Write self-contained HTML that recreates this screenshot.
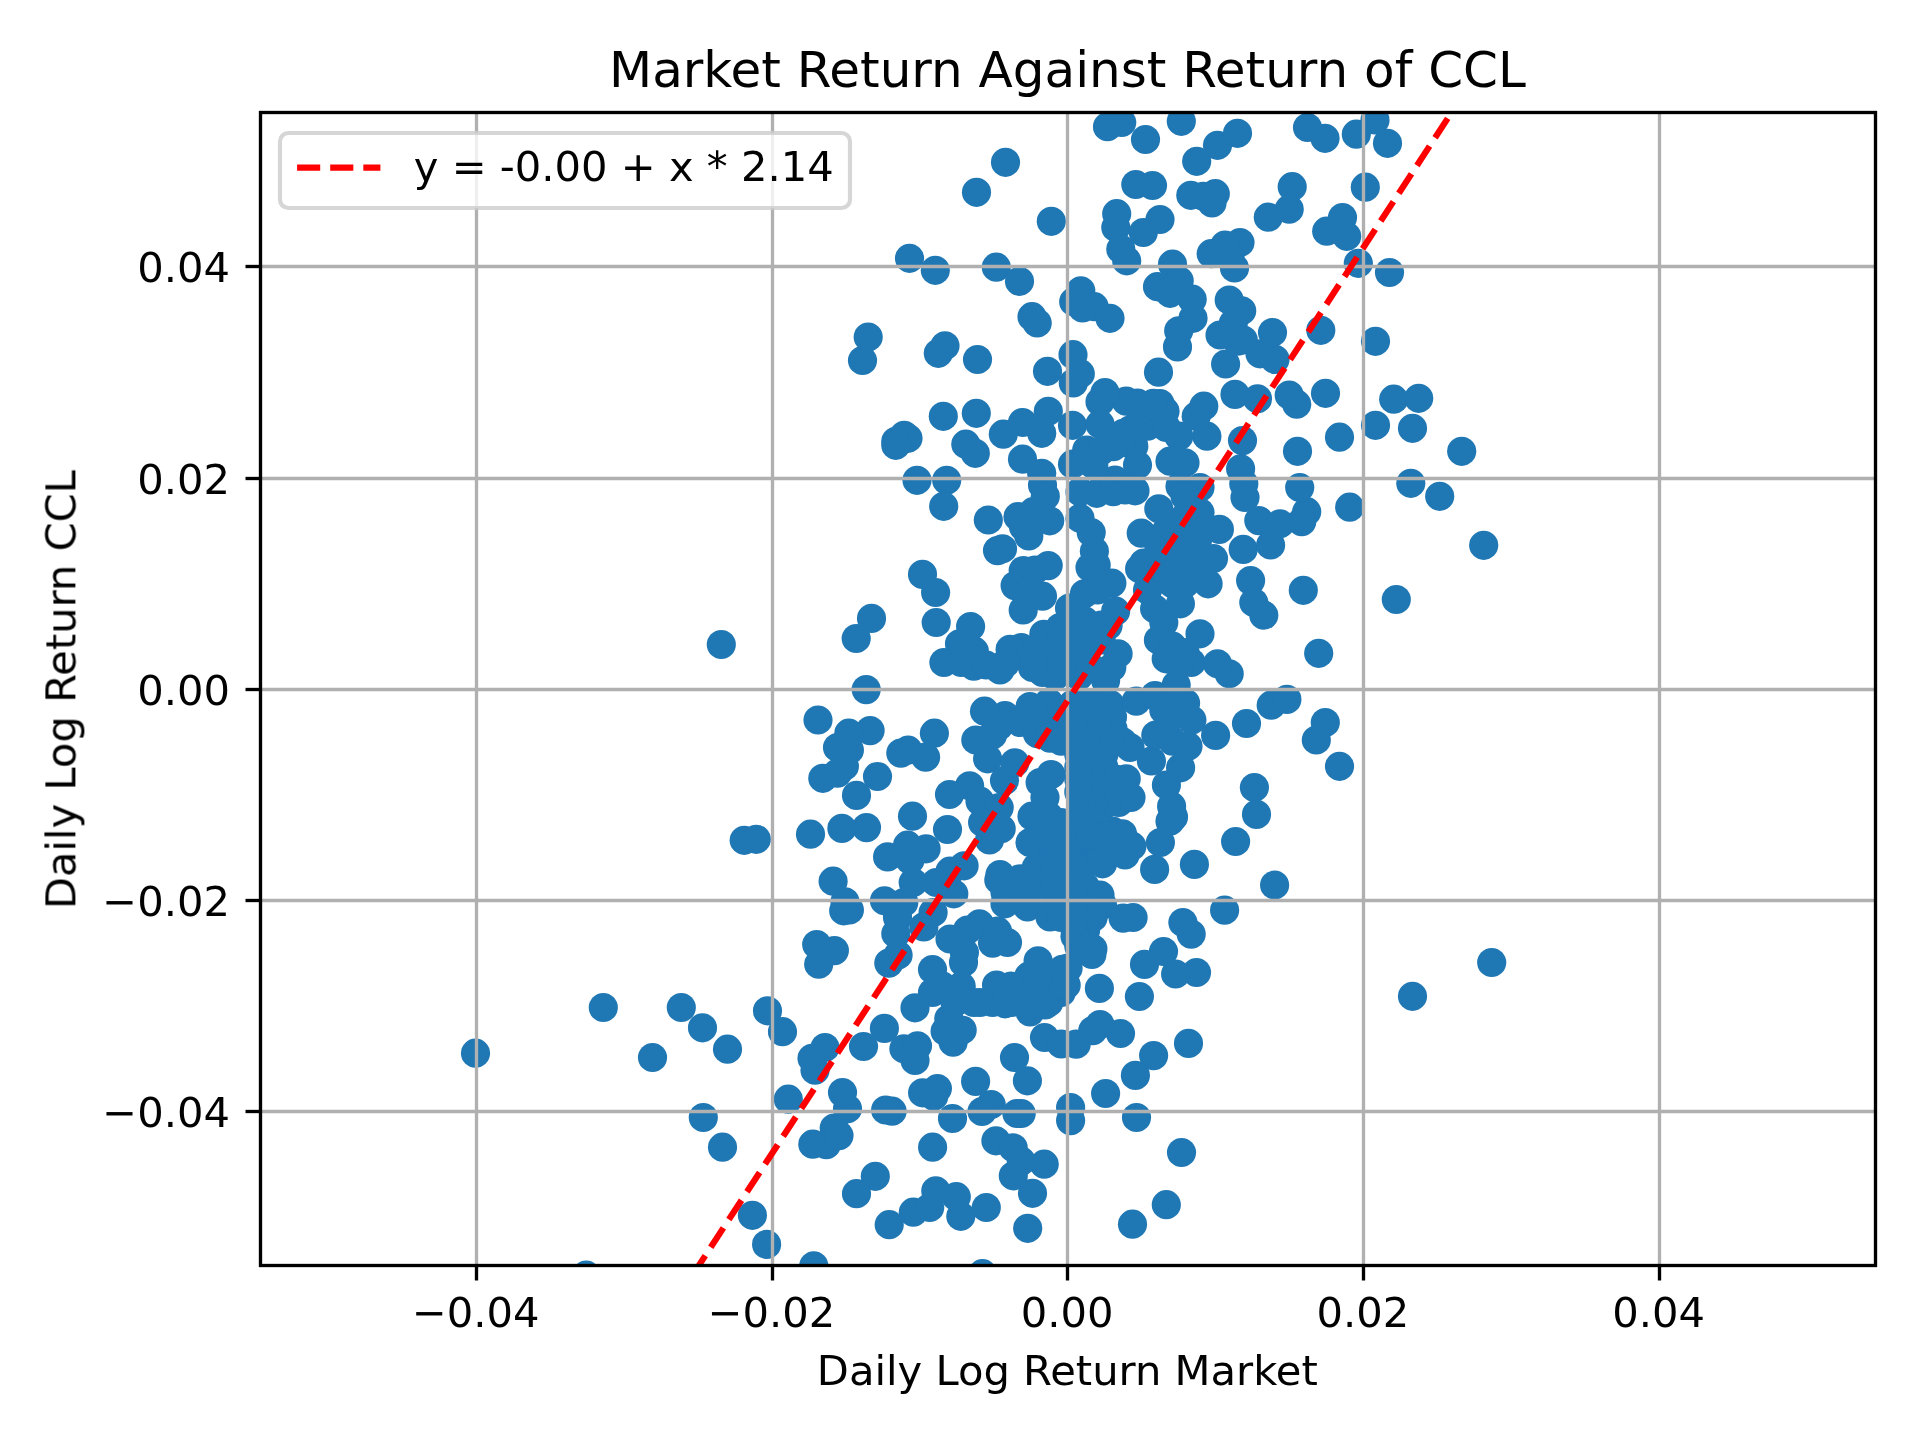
<!DOCTYPE html>
<html lang="en"><head><meta charset="utf-8"><title>Market Return Against Return of CCL</title>
<style>html,body{margin:0;padding:0;background:#fff;overflow:hidden}svg{display:block}text{font-family:"DejaVu Sans","Liberation Sans",sans-serif;fill:#000}</style></head><body>
<svg width="1920" height="1440" viewBox="0 0 1920 1440">
<rect width="1920" height="1440" fill="#fff"/>
<defs><clipPath id="ax"><rect x="259.58" y="112.0" width="1615.42" height="1153.17"/></clipPath></defs>
<g clip-path="url(#ax)" fill="#1f77b4">
<circle cx="1342.5" cy="217.5" r="14.58"/>
<circle cx="1268.3" cy="217.2" r="14.58"/>
<circle cx="965.8" cy="444.2" r="14.58"/>
<circle cx="1003.3" cy="434.2" r="14.58"/>
<circle cx="1041.7" cy="433.3" r="14.58"/>
<circle cx="1289.2" cy="209.2" r="14.58"/>
<circle cx="1326.7" cy="231.2" r="14.58"/>
<circle cx="1051.3" cy="221.3" r="14.58"/>
<circle cx="1461.7" cy="451.3" r="14.58"/>
<circle cx="1412.5" cy="428.3" r="14.58"/>
<circle cx="975.3" cy="453.3" r="14.58"/>
<circle cx="982.5" cy="1273.7" r="14.58"/>
<circle cx="1346.7" cy="236.3" r="14.58"/>
<circle cx="1022.5" cy="422.5" r="14.58"/>
<circle cx="703.3" cy="1117.5" r="14.58"/>
<circle cx="1022.5" cy="459.2" r="14.58"/>
<circle cx="1240.0" cy="242.5" r="14.58"/>
<circle cx="943.3" cy="416.3" r="14.58"/>
<circle cx="1375.5" cy="425.3" r="14.58"/>
<circle cx="976.3" cy="413.3" r="14.58"/>
<circle cx="976.5" cy="192.3" r="14.58"/>
<circle cx="788.3" cy="1099.2" r="14.58"/>
<circle cx="1048.3" cy="411.3" r="14.58"/>
<circle cx="937.4" cy="1088.5" r="14.58"/>
<circle cx="1027.7" cy="1228.3" r="14.58"/>
<circle cx="1072.5" cy="425.3" r="14.58"/>
<circle cx="1072.5" cy="464.2" r="14.58"/>
<circle cx="1182.9" cy="922.5" r="14.58"/>
<circle cx="922.6" cy="1092.8" r="14.58"/>
<circle cx="1365.3" cy="187.2" r="14.58"/>
<circle cx="1292.2" cy="186.7" r="14.58"/>
<circle cx="1041.7" cy="473.3" r="14.58"/>
<circle cx="1196.2" cy="416.2" r="14.58"/>
<circle cx="1208.1" cy="583.8" r="14.58"/>
<circle cx="1172.5" cy="583.8" r="14.58"/>
<circle cx="1185.0" cy="583.8" r="14.58"/>
<circle cx="1188.0" cy="746.2" r="14.58"/>
<circle cx="979.4" cy="923.8" r="14.58"/>
<circle cx="1225.0" cy="245.0" r="14.58"/>
<circle cx="721.3" cy="644.5" r="14.58"/>
<circle cx="922.5" cy="574.4" r="14.58"/>
<circle cx="1147.5" cy="426.2" r="14.58"/>
<circle cx="933.8" cy="1096.2" r="14.58"/>
<circle cx="1230.0" cy="256.7" r="14.58"/>
<circle cx="923.8" cy="926.9" r="14.58"/>
<circle cx="925.6" cy="757.2" r="14.58"/>
<circle cx="1166.2" cy="427.5" r="14.58"/>
<circle cx="933.1" cy="912.5" r="14.58"/>
<circle cx="975.6" cy="1081.4" r="14.58"/>
<circle cx="1165.0" cy="411.2" r="14.58"/>
<circle cx="1191.2" cy="571.2" r="14.58"/>
<circle cx="1172.5" cy="741.2" r="14.58"/>
<circle cx="987.6" cy="758.8" r="14.58"/>
<circle cx="1147.5" cy="590.0" r="14.58"/>
<circle cx="975.8" cy="740.0" r="14.58"/>
<circle cx="967.5" cy="930.0" r="14.58"/>
<circle cx="946.7" cy="480.3" r="14.58"/>
<circle cx="1393.7" cy="399.2" r="14.58"/>
<circle cx="1151.4" cy="761.0" r="14.58"/>
<circle cx="1139.6" cy="568.8" r="14.58"/>
<circle cx="1418.7" cy="398.3" r="14.58"/>
<circle cx="908.1" cy="750.2" r="14.58"/>
<circle cx="1160.0" cy="567.5" r="14.58"/>
<circle cx="935.6" cy="592.5" r="14.58"/>
<circle cx="652.5" cy="1057.5" r="14.58"/>
<circle cx="917.0" cy="480.3" r="14.58"/>
<circle cx="1358.3" cy="263.3" r="14.58"/>
<circle cx="1410.8" cy="483.3" r="14.58"/>
<circle cx="960.8" cy="1216.3" r="14.58"/>
<circle cx="1203.8" cy="406.2" r="14.58"/>
<circle cx="1191.2" cy="934.1" r="14.58"/>
<circle cx="991.2" cy="1104.5" r="14.58"/>
<circle cx="1215.6" cy="735.4" r="14.58"/>
<circle cx="1224.6" cy="910.2" r="14.58"/>
<circle cx="1135.4" cy="1075.4" r="14.58"/>
<circle cx="1215.3" cy="193.7" r="14.58"/>
<circle cx="1042.5" cy="485.0" r="14.58"/>
<circle cx="1178.8" cy="565.0" r="14.58"/>
<circle cx="1155.8" cy="735.0" r="14.58"/>
<circle cx="992.5" cy="735.0" r="14.58"/>
<circle cx="1206.9" cy="436.2" r="14.58"/>
<circle cx="1178.8" cy="436.2" r="14.58"/>
<circle cx="1160.0" cy="403.5" r="14.58"/>
<circle cx="1086.7" cy="450.0" r="14.58"/>
<circle cx="934.4" cy="733.2" r="14.58"/>
<circle cx="1137.5" cy="403.1" r="14.58"/>
<circle cx="1143.8" cy="563.1" r="14.58"/>
<circle cx="1133.1" cy="917.5" r="14.58"/>
<circle cx="996.3" cy="267.2" r="14.58"/>
<circle cx="722.5" cy="1147.2" r="14.58"/>
<circle cx="903.8" cy="902.5" r="14.58"/>
<circle cx="997.5" cy="931.2" r="14.58"/>
<circle cx="1180.6" cy="767.8" r="14.58"/>
<circle cx="913.3" cy="1212.2" r="14.58"/>
<circle cx="1212.0" cy="203.0" r="14.58"/>
<circle cx="1234.5" cy="268.0" r="14.58"/>
<circle cx="1211.2" cy="253.7" r="14.58"/>
<circle cx="950.0" cy="939.0" r="14.58"/>
<circle cx="900.8" cy="753.1" r="14.58"/>
<circle cx="1130.0" cy="430.0" r="14.58"/>
<circle cx="1130.0" cy="747.5" r="14.58"/>
<circle cx="935.3" cy="270.3" r="14.58"/>
<circle cx="909.5" cy="258.3" r="14.58"/>
<circle cx="727.5" cy="1049.2" r="14.58"/>
<circle cx="1213.5" cy="558.5" r="14.58"/>
<circle cx="982.0" cy="1111.5" r="14.58"/>
<circle cx="1080.0" cy="491.7" r="14.58"/>
<circle cx="908.0" cy="438.3" r="14.58"/>
<circle cx="812.0" cy="1058.3" r="14.58"/>
<circle cx="1389.5" cy="272.5" r="14.58"/>
<circle cx="897.5" cy="917.5" r="14.58"/>
<circle cx="929.7" cy="1207.5" r="14.58"/>
<circle cx="986.3" cy="1207.5" r="14.58"/>
<circle cx="812.8" cy="1144.2" r="14.58"/>
<circle cx="992.5" cy="943.1" r="14.58"/>
<circle cx="1126.2" cy="401.2" r="14.58"/>
<circle cx="1180.4" cy="603.8" r="14.58"/>
<circle cx="998.8" cy="726.2" r="14.58"/>
<circle cx="895.8" cy="933.8" r="14.58"/>
<circle cx="1191.2" cy="555.0" r="14.58"/>
<circle cx="1005.0" cy="903.8" r="14.58"/>
<circle cx="815.0" cy="1070.2" r="14.58"/>
<circle cx="1235.0" cy="394.4" r="14.58"/>
<circle cx="904.2" cy="435.3" r="14.58"/>
<circle cx="953.8" cy="893.8" r="14.58"/>
<circle cx="1133.8" cy="446.2" r="14.58"/>
<circle cx="1045.3" cy="496.3" r="14.58"/>
<circle cx="1439.7" cy="496.3" r="14.58"/>
<circle cx="1203.3" cy="196.3" r="14.58"/>
<circle cx="1096.7" cy="493.3" r="14.58"/>
<circle cx="816.7" cy="944.5" r="14.58"/>
<circle cx="1123.1" cy="918.1" r="14.58"/>
<circle cx="1073.3" cy="383.0" r="14.58"/>
<circle cx="1122.5" cy="741.9" r="14.58"/>
<circle cx="1005.0" cy="892.5" r="14.58"/>
<circle cx="1007.5" cy="942.5" r="14.58"/>
<circle cx="1136.5" cy="1117.5" r="14.58"/>
<circle cx="1005.5" cy="162.3" r="14.58"/>
<circle cx="892.1" cy="1111.2" r="14.58"/>
<circle cx="952.5" cy="1118.5" r="14.58"/>
<circle cx="1154.6" cy="608.8" r="14.58"/>
<circle cx="1126.2" cy="778.8" r="14.58"/>
<circle cx="997.5" cy="550.6" r="14.58"/>
<circle cx="915.0" cy="1060.5" r="14.58"/>
<circle cx="744.2" cy="840.3" r="14.58"/>
<circle cx="1100.0" cy="401.7" r="14.58"/>
<circle cx="1100.0" cy="424.2" r="14.58"/>
<circle cx="1100.0" cy="451.7" r="14.58"/>
<circle cx="1120.0" cy="442.5" r="14.58"/>
<circle cx="1191.9" cy="720.0" r="14.58"/>
<circle cx="1339.5" cy="437.2" r="14.58"/>
<circle cx="1396.3" cy="599.5" r="14.58"/>
<circle cx="1004.5" cy="780.6" r="14.58"/>
<circle cx="756.3" cy="839.3" r="14.58"/>
<circle cx="889.2" cy="1224.7" r="14.58"/>
<circle cx="1002.5" cy="548.8" r="14.58"/>
<circle cx="1019.5" cy="281.3" r="14.58"/>
<circle cx="1163.5" cy="951.5" r="14.58"/>
<circle cx="862.5" cy="360.5" r="14.58"/>
<circle cx="1242.5" cy="440.6" r="14.58"/>
<circle cx="964.4" cy="952.5" r="14.58"/>
<circle cx="1491.7" cy="962.5" r="14.58"/>
<circle cx="1243.2" cy="549.4" r="14.58"/>
<circle cx="1196.7" cy="161.3" r="14.58"/>
<circle cx="956.3" cy="1196.7" r="14.58"/>
<circle cx="1158.8" cy="546.2" r="14.58"/>
<circle cx="1172.5" cy="716.2" r="14.58"/>
<circle cx="1116.2" cy="779.4" r="14.58"/>
<circle cx="895.8" cy="441.3" r="14.58"/>
<circle cx="895.8" cy="445.3" r="14.58"/>
<circle cx="818.7" cy="964.2" r="14.58"/>
<circle cx="1115.6" cy="611.2" r="14.58"/>
<circle cx="1005.0" cy="715.6" r="14.58"/>
<circle cx="885.6" cy="1110.0" r="14.58"/>
<circle cx="1153.6" cy="1055.6" r="14.58"/>
<circle cx="1014.5" cy="1057.5" r="14.58"/>
<circle cx="1014.8" cy="762.8" r="14.58"/>
<circle cx="1105.0" cy="392.5" r="14.58"/>
<circle cx="1166.4" cy="785.0" r="14.58"/>
<circle cx="898.1" cy="955.0" r="14.58"/>
<circle cx="825.0" cy="1047.5" r="14.58"/>
<circle cx="1015.1" cy="585.6" r="14.58"/>
<circle cx="884.5" cy="900.8" r="14.58"/>
<circle cx="969.6" cy="785.8" r="14.58"/>
<circle cx="810.5" cy="834.2" r="14.58"/>
<circle cx="826.3" cy="1144.7" r="14.58"/>
<circle cx="1080.3" cy="373.7" r="14.58"/>
<circle cx="943.7" cy="506.3" r="14.58"/>
<circle cx="1246.5" cy="723.5" r="14.58"/>
<circle cx="1032.5" cy="1193.3" r="14.58"/>
<circle cx="1113.1" cy="729.4" r="14.58"/>
<circle cx="1016.9" cy="1113.5" r="14.58"/>
<circle cx="1349.7" cy="507.2" r="14.58"/>
<circle cx="1112.5" cy="716.9" r="14.58"/>
<circle cx="913.2" cy="882.5" r="14.58"/>
<circle cx="936.2" cy="882.5" r="14.58"/>
<circle cx="1017.5" cy="892.5" r="14.58"/>
<circle cx="1111.9" cy="583.1" r="14.58"/>
<circle cx="868.2" cy="337.0" r="14.58"/>
<circle cx="1047.5" cy="371.3" r="14.58"/>
<circle cx="984.5" cy="711.2" r="14.58"/>
<circle cx="1190.8" cy="195.3" r="14.58"/>
<circle cx="935.8" cy="1190.8" r="14.58"/>
<circle cx="1178.8" cy="540.0" r="14.58"/>
<circle cx="1197.5" cy="540.0" r="14.58"/>
<circle cx="1163.8" cy="710.0" r="14.58"/>
<circle cx="1110.0" cy="741.9" r="14.58"/>
<circle cx="1020.0" cy="722.5" r="14.58"/>
<circle cx="998.8" cy="880.0" r="14.58"/>
<circle cx="1250.6" cy="580.6" r="14.58"/>
<circle cx="1080.8" cy="290.8" r="14.58"/>
<circle cx="1170.0" cy="461.2" r="14.58"/>
<circle cx="1020.0" cy="878.8" r="14.58"/>
<circle cx="903.9" cy="1048.8" r="14.58"/>
<circle cx="1021.2" cy="1113.5" r="14.58"/>
<circle cx="1033.3" cy="511.7" r="14.58"/>
<circle cx="1116.2" cy="791.9" r="14.58"/>
<circle cx="1163.8" cy="622.5" r="14.58"/>
<circle cx="936.2" cy="622.5" r="14.58"/>
<circle cx="877.5" cy="776.5" r="14.58"/>
<circle cx="963.5" cy="962.5" r="14.58"/>
<circle cx="1185.0" cy="462.8" r="14.58"/>
<circle cx="888.8" cy="963.1" r="14.58"/>
<circle cx="1023.2" cy="570.6" r="14.58"/>
<circle cx="1023.2" cy="610.0" r="14.58"/>
<circle cx="1113.3" cy="446.7" r="14.58"/>
<circle cx="1113.3" cy="491.7" r="14.58"/>
<circle cx="1166.3" cy="1204.7" r="14.58"/>
<circle cx="1253.8" cy="602.5" r="14.58"/>
<circle cx="834.2" cy="1128.0" r="14.58"/>
<circle cx="917.5" cy="1045.8" r="14.58"/>
<circle cx="1254.4" cy="787.5" r="14.58"/>
<circle cx="1144.5" cy="964.4" r="14.58"/>
<circle cx="1105.6" cy="1093.5" r="14.58"/>
<circle cx="1325.5" cy="393.3" r="14.58"/>
<circle cx="949.5" cy="794.5" r="14.58"/>
<circle cx="1217.5" cy="145.3" r="14.58"/>
<circle cx="1325.3" cy="722.5" r="14.58"/>
<circle cx="1115.0" cy="480.0" r="14.58"/>
<circle cx="1137.5" cy="465.0" r="14.58"/>
<circle cx="1000.0" cy="874.5" r="14.58"/>
<circle cx="1108.1" cy="625.6" r="14.58"/>
<circle cx="1110.0" cy="704.4" r="14.58"/>
<circle cx="1115.8" cy="227.5" r="14.58"/>
<circle cx="1103.8" cy="448.8" r="14.58"/>
<circle cx="1103.8" cy="754.4" r="14.58"/>
<circle cx="1103.8" cy="766.9" r="14.58"/>
<circle cx="1103.8" cy="779.4" r="14.58"/>
<circle cx="1103.8" cy="791.9" r="14.58"/>
<circle cx="970.6" cy="626.5" r="14.58"/>
<circle cx="1188.5" cy="1043.4" r="14.58"/>
<circle cx="1018.0" cy="516.7" r="14.58"/>
<circle cx="1387.5" cy="143.3" r="14.58"/>
<circle cx="1116.7" cy="213.7" r="14.58"/>
<circle cx="1141.2" cy="533.1" r="14.58"/>
<circle cx="1185.6" cy="703.1" r="14.58"/>
<circle cx="1027.4" cy="1080.8" r="14.58"/>
<circle cx="1257.5" cy="398.8" r="14.58"/>
<circle cx="1131.0" cy="797.5" r="14.58"/>
<circle cx="1102.5" cy="905.0" r="14.58"/>
<circle cx="1027.5" cy="906.9" r="14.58"/>
<circle cx="1158.5" cy="372.2" r="14.58"/>
<circle cx="953.1" cy="1042.2" r="14.58"/>
<circle cx="1080.0" cy="518.3" r="14.58"/>
<circle cx="871.5" cy="618.4" r="14.58"/>
<circle cx="1240.6" cy="468.8" r="14.58"/>
<circle cx="1101.2" cy="625.0" r="14.58"/>
<circle cx="1166.2" cy="531.2" r="14.58"/>
<circle cx="1028.8" cy="535.9" r="14.58"/>
<circle cx="1136.2" cy="701.2" r="14.58"/>
<circle cx="950.0" cy="871.2" r="14.58"/>
<circle cx="1192.2" cy="299.2" r="14.58"/>
<circle cx="932.5" cy="969.5" r="14.58"/>
<circle cx="870.1" cy="730.6" r="14.58"/>
<circle cx="1229.2" cy="300.0" r="14.58"/>
<circle cx="988.3" cy="520.0" r="14.58"/>
<circle cx="1030.0" cy="590.0" r="14.58"/>
<circle cx="1030.0" cy="706.5" r="14.58"/>
<circle cx="1100.0" cy="895.0" r="14.58"/>
<circle cx="977.5" cy="359.5" r="14.58"/>
<circle cx="1219.4" cy="529.4" r="14.58"/>
<circle cx="1154.6" cy="869.4" r="14.58"/>
<circle cx="995.9" cy="1140.8" r="14.58"/>
<circle cx="1120.8" cy="249.2" r="14.58"/>
<circle cx="1179.2" cy="280.8" r="14.58"/>
<circle cx="1049.7" cy="520.8" r="14.58"/>
<circle cx="980.0" cy="801.2" r="14.58"/>
<circle cx="1318.7" cy="653.3" r="14.58"/>
<circle cx="1073.7" cy="301.7" r="14.58"/>
<circle cx="1325.0" cy="138.3" r="14.58"/>
<circle cx="1097.5" cy="590.0" r="14.58"/>
<circle cx="1097.5" cy="704.4" r="14.58"/>
<circle cx="1097.5" cy="716.9" r="14.58"/>
<circle cx="1097.5" cy="729.4" r="14.58"/>
<circle cx="1097.5" cy="741.9" r="14.58"/>
<circle cx="1118.8" cy="802.5" r="14.58"/>
<circle cx="1196.5" cy="972.5" r="14.58"/>
<circle cx="1123.3" cy="433.3" r="14.58"/>
<circle cx="1023.4" cy="526.6" r="14.58"/>
<circle cx="1316.3" cy="740.0" r="14.58"/>
<circle cx="875.3" cy="1176.3" r="14.58"/>
<circle cx="843.7" cy="910.8" r="14.58"/>
<circle cx="1096.2" cy="565.0" r="14.58"/>
<circle cx="1200.0" cy="633.8" r="14.58"/>
<circle cx="1263.8" cy="615.2" r="14.58"/>
<circle cx="1106.2" cy="803.8" r="14.58"/>
<circle cx="1175.6" cy="974.0" r="14.58"/>
<circle cx="1013.3" cy="1175.8" r="14.58"/>
<circle cx="964.1" cy="865.8" r="14.58"/>
<circle cx="1155.0" cy="695.6" r="14.58"/>
<circle cx="475.5" cy="1053.2" r="14.58"/>
<circle cx="1035.0" cy="570.0" r="14.58"/>
<circle cx="1073.0" cy="354.7" r="14.58"/>
<circle cx="1094.4" cy="551.2" r="14.58"/>
<circle cx="1194.4" cy="864.4" r="14.58"/>
<circle cx="813.8" cy="1265.8" r="14.58"/>
<circle cx="1356.3" cy="134.2" r="14.58"/>
<circle cx="1225.6" cy="364.0" r="14.58"/>
<circle cx="1171.6" cy="806.2" r="14.58"/>
<circle cx="1093.8" cy="803.8" r="14.58"/>
<circle cx="1102.5" cy="863.8" r="14.58"/>
<circle cx="1036.2" cy="890.0" r="14.58"/>
<circle cx="1036.2" cy="867.5" r="14.58"/>
<circle cx="1028.8" cy="976.2" r="14.58"/>
<circle cx="1093.8" cy="465.0" r="14.58"/>
<circle cx="863.5" cy="1046.5" r="14.58"/>
<circle cx="1120.5" cy="1033.5" r="14.58"/>
<circle cx="1094.2" cy="306.7" r="14.58"/>
<circle cx="1237.5" cy="133.3" r="14.58"/>
<circle cx="938.3" cy="353.3" r="14.58"/>
<circle cx="1126.7" cy="260.8" r="14.58"/>
<circle cx="1093.1" cy="917.5" r="14.58"/>
<circle cx="1092.9" cy="948.8" r="14.58"/>
<circle cx="932.6" cy="1147.2" r="14.58"/>
<circle cx="1172.5" cy="264.2" r="14.58"/>
<circle cx="1037.5" cy="733.8" r="14.58"/>
<circle cx="999.2" cy="807.5" r="14.58"/>
<circle cx="1013.2" cy="1147.8" r="14.58"/>
<circle cx="1082.5" cy="308.0" r="14.58"/>
<circle cx="1091.9" cy="954.4" r="14.58"/>
<circle cx="1038.1" cy="960.8" r="14.58"/>
<circle cx="1091.2" cy="532.5" r="14.58"/>
<circle cx="1091.2" cy="754.4" r="14.58"/>
<circle cx="1091.2" cy="766.9" r="14.58"/>
<circle cx="1091.2" cy="779.4" r="14.58"/>
<circle cx="1091.2" cy="791.9" r="14.58"/>
<circle cx="945.1" cy="1031.2" r="14.58"/>
<circle cx="1258.8" cy="520.6" r="14.58"/>
<circle cx="1092.8" cy="1030.6" r="14.58"/>
<circle cx="1170.0" cy="293.3" r="14.58"/>
<circle cx="1090.0" cy="567.5" r="14.58"/>
<circle cx="1101.2" cy="640.0" r="14.58"/>
<circle cx="1158.4" cy="640.0" r="14.58"/>
<circle cx="910.0" cy="860.0" r="14.58"/>
<circle cx="962.2" cy="1030.0" r="14.58"/>
<circle cx="1040.1" cy="782.5" r="14.58"/>
<circle cx="866.2" cy="689.6" r="14.58"/>
<circle cx="1198.8" cy="519.4" r="14.58"/>
<circle cx="1270.6" cy="545.0" r="14.58"/>
<circle cx="1241.7" cy="310.8" r="14.58"/>
<circle cx="1271.2" cy="705.2" r="14.58"/>
<circle cx="884.4" cy="1028.4" r="14.58"/>
<circle cx="752.4" cy="1215.3" r="14.58"/>
<circle cx="1307.5" cy="127.5" r="14.58"/>
<circle cx="1042.5" cy="596.2" r="14.58"/>
<circle cx="1087.5" cy="900.0" r="14.58"/>
<circle cx="1042.5" cy="902.5" r="14.58"/>
<circle cx="1181.5" cy="1152.5" r="14.58"/>
<circle cx="1185.0" cy="516.9" r="14.58"/>
<circle cx="887.6" cy="856.9" r="14.58"/>
<circle cx="1306.7" cy="511.7" r="14.58"/>
<circle cx="1107.5" cy="126.7" r="14.58"/>
<circle cx="856.5" cy="795.4" r="14.58"/>
<circle cx="856.5" cy="1193.7" r="14.58"/>
<circle cx="1243.8" cy="483.8" r="14.58"/>
<circle cx="856.2" cy="638.5" r="14.58"/>
<circle cx="959.5" cy="643.8" r="14.58"/>
<circle cx="1043.8" cy="634.4" r="14.58"/>
<circle cx="945.0" cy="345.8" r="14.58"/>
<circle cx="1256.5" cy="814.4" r="14.58"/>
<circle cx="1085.6" cy="930.0" r="14.58"/>
<circle cx="1044.5" cy="1037.5" r="14.58"/>
<circle cx="1274.6" cy="885.0" r="14.58"/>
<circle cx="1135.0" cy="490.8" r="14.58"/>
<circle cx="1275.0" cy="359.4" r="14.58"/>
<circle cx="1085.0" cy="621.2" r="14.58"/>
<circle cx="1176.2" cy="685.0" r="14.58"/>
<circle cx="1085.0" cy="704.4" r="14.58"/>
<circle cx="1085.0" cy="716.9" r="14.58"/>
<circle cx="1085.0" cy="729.4" r="14.58"/>
<circle cx="1085.0" cy="741.9" r="14.58"/>
<circle cx="1045.0" cy="797.5" r="14.58"/>
<circle cx="1125.0" cy="855.0" r="14.58"/>
<circle cx="1085.0" cy="861.2" r="14.58"/>
<circle cx="1085.0" cy="886.2" r="14.58"/>
<circle cx="1042.5" cy="855.0" r="14.58"/>
<circle cx="996.5" cy="985.0" r="14.58"/>
<circle cx="586.2" cy="1275.2" r="14.58"/>
<circle cx="1100.0" cy="1024.5" r="14.58"/>
<circle cx="1084.4" cy="593.8" r="14.58"/>
<circle cx="1135.8" cy="184.5" r="14.58"/>
<circle cx="1044.2" cy="1164.2" r="14.58"/>
<circle cx="1260.0" cy="353.8" r="14.58"/>
<circle cx="1180.0" cy="486.2" r="14.58"/>
<circle cx="1172.5" cy="646.2" r="14.58"/>
<circle cx="1091.2" cy="816.2" r="14.58"/>
<circle cx="1032.0" cy="816.2" r="14.58"/>
<circle cx="912.5" cy="816.2" r="14.58"/>
<circle cx="942.5" cy="986.2" r="14.58"/>
<circle cx="961.2" cy="986.2" r="14.58"/>
<circle cx="1011.2" cy="986.2" r="14.58"/>
<circle cx="1412.5" cy="996.3" r="14.58"/>
<circle cx="1032.0" cy="316.7" r="14.58"/>
<circle cx="1303.3" cy="590.3" r="14.58"/>
<circle cx="1173.5" cy="816.9" r="14.58"/>
<circle cx="1121.7" cy="122.5" r="14.58"/>
<circle cx="1200.0" cy="487.5" r="14.58"/>
<circle cx="1047.5" cy="722.5" r="14.58"/>
<circle cx="1082.5" cy="915.0" r="14.58"/>
<circle cx="1021.2" cy="647.6" r="14.58"/>
<circle cx="1162.0" cy="287.5" r="14.58"/>
<circle cx="1048.2" cy="565.6" r="14.58"/>
<circle cx="1138.3" cy="426.7" r="14.58"/>
<circle cx="1301.7" cy="521.7" r="14.58"/>
<circle cx="1110.0" cy="318.3" r="14.58"/>
<circle cx="1193.0" cy="318.3" r="14.58"/>
<circle cx="822.8" cy="778.3" r="14.58"/>
<circle cx="1099.4" cy="988.4" r="14.58"/>
<circle cx="1181.3" cy="121.3" r="14.58"/>
<circle cx="1375.5" cy="341.3" r="14.58"/>
<circle cx="1081.2" cy="803.8" r="14.58"/>
<circle cx="1048.8" cy="702.5" r="14.58"/>
<circle cx="1048.8" cy="816.2" r="14.58"/>
<circle cx="1048.8" cy="980.0" r="14.58"/>
<circle cx="1021.3" cy="1161.2" r="14.58"/>
<circle cx="1010.1" cy="649.4" r="14.58"/>
<circle cx="1105.6" cy="680.6" r="14.58"/>
<circle cx="1375.0" cy="120.0" r="14.58"/>
<circle cx="1160.0" cy="219.5" r="14.58"/>
<circle cx="1140.0" cy="410.0" r="14.58"/>
<circle cx="1125.0" cy="490.0" r="14.58"/>
<circle cx="1280.0" cy="523.8" r="14.58"/>
<circle cx="1050.0" cy="738.1" r="14.58"/>
<circle cx="1050.0" cy="916.9" r="14.58"/>
<circle cx="1299.7" cy="487.5" r="14.58"/>
<circle cx="849.4" cy="750.0" r="14.58"/>
<circle cx="849.4" cy="910.0" r="14.58"/>
<circle cx="1051.0" cy="774.5" r="14.58"/>
<circle cx="1078.8" cy="646.2" r="14.58"/>
<circle cx="1158.8" cy="508.8" r="14.58"/>
<circle cx="974.4" cy="651.2" r="14.58"/>
<circle cx="1170.0" cy="821.2" r="14.58"/>
<circle cx="1078.8" cy="754.4" r="14.58"/>
<circle cx="1078.8" cy="766.9" r="14.58"/>
<circle cx="1078.8" cy="779.4" r="14.58"/>
<circle cx="1078.8" cy="791.9" r="14.58"/>
<circle cx="848.8" cy="733.2" r="14.58"/>
<circle cx="1085.0" cy="848.8" r="14.58"/>
<circle cx="1097.5" cy="848.8" r="14.58"/>
<circle cx="1110.0" cy="848.8" r="14.58"/>
<circle cx="1078.8" cy="946.2" r="14.58"/>
<circle cx="926.1" cy="848.8" r="14.58"/>
<circle cx="948.8" cy="1018.8" r="14.58"/>
<circle cx="1297.5" cy="451.3" r="14.58"/>
<circle cx="1185.0" cy="652.5" r="14.58"/>
<circle cx="1048.8" cy="652.5" r="14.58"/>
<circle cx="1078.8" cy="822.5" r="14.58"/>
<circle cx="982.6" cy="822.5" r="14.58"/>
<circle cx="932.5" cy="992.5" r="14.58"/>
<circle cx="847.5" cy="1108.8" r="14.58"/>
<circle cx="1132.5" cy="1224.2" r="14.58"/>
<circle cx="1037.2" cy="323.0" r="14.58"/>
<circle cx="1177.5" cy="346.9" r="14.58"/>
<circle cx="1143.3" cy="232.5" r="14.58"/>
<circle cx="1296.7" cy="404.2" r="14.58"/>
<circle cx="1233.3" cy="323.3" r="14.58"/>
<circle cx="1118.1" cy="653.8" r="14.58"/>
<circle cx="1078.8" cy="676.2" r="14.58"/>
<circle cx="1131.9" cy="846.2" r="14.58"/>
<circle cx="1076.2" cy="1044.2" r="14.58"/>
<circle cx="907.5" cy="845.2" r="14.58"/>
<circle cx="1075.0" cy="608.8" r="14.58"/>
<circle cx="1055.0" cy="676.2" r="14.58"/>
<circle cx="1120.0" cy="845.0" r="14.58"/>
<circle cx="1075.0" cy="936.2" r="14.58"/>
<circle cx="845.0" cy="901.9" r="14.58"/>
<circle cx="1055.0" cy="886.2" r="14.58"/>
<circle cx="1055.0" cy="867.5" r="14.58"/>
<circle cx="1483.7" cy="545.3" r="14.58"/>
<circle cx="1145.5" cy="139.5" r="14.58"/>
<circle cx="844.4" cy="766.2" r="14.58"/>
<circle cx="1185.0" cy="496.2" r="14.58"/>
<circle cx="1085.0" cy="656.2" r="14.58"/>
<circle cx="1229.2" cy="673.8" r="14.58"/>
<circle cx="1030.0" cy="996.2" r="14.58"/>
<circle cx="1339.5" cy="766.3" r="14.58"/>
<circle cx="1139.4" cy="996.5" r="14.58"/>
<circle cx="766.6" cy="1244.4" r="14.58"/>
<circle cx="1286.9" cy="699.4" r="14.58"/>
<circle cx="1152.5" cy="185.5" r="14.58"/>
<circle cx="1245.0" cy="497.5" r="14.58"/>
<circle cx="1072.5" cy="627.5" r="14.58"/>
<circle cx="1072.5" cy="704.4" r="14.58"/>
<circle cx="1072.5" cy="716.9" r="14.58"/>
<circle cx="1072.5" cy="729.4" r="14.58"/>
<circle cx="1072.5" cy="741.9" r="14.58"/>
<circle cx="1042.5" cy="672.5" r="14.58"/>
<circle cx="1160.4" cy="842.5" r="14.58"/>
<circle cx="1072.5" cy="848.8" r="14.58"/>
<circle cx="1072.5" cy="861.2" r="14.58"/>
<circle cx="1072.5" cy="886.2" r="14.58"/>
<circle cx="1072.5" cy="898.8" r="14.58"/>
<circle cx="1072.5" cy="911.2" r="14.58"/>
<circle cx="1072.5" cy="923.8" r="14.58"/>
<circle cx="1030.0" cy="842.5" r="14.58"/>
<circle cx="842.5" cy="1092.6" r="14.58"/>
<circle cx="603.3" cy="1007.5" r="14.58"/>
<circle cx="681.3" cy="1007.5" r="14.58"/>
<circle cx="866.5" cy="827.6" r="14.58"/>
<circle cx="1030.0" cy="1011.9" r="14.58"/>
<circle cx="841.9" cy="828.4" r="14.58"/>
<circle cx="1235.6" cy="841.5" r="14.58"/>
<circle cx="1237.5" cy="341.2" r="14.58"/>
<circle cx="1166.2" cy="658.8" r="14.58"/>
<circle cx="1030.0" cy="658.8" r="14.58"/>
<circle cx="1001.2" cy="828.8" r="14.58"/>
<circle cx="1070.6" cy="1107.5" r="14.58"/>
<circle cx="1070.6" cy="1120.6" r="14.58"/>
<circle cx="947.5" cy="829.5" r="14.58"/>
<circle cx="1320.8" cy="330.3" r="14.58"/>
<circle cx="1000.0" cy="670.0" r="14.58"/>
<circle cx="989.5" cy="840.0" r="14.58"/>
<circle cx="1048.8" cy="840.0" r="14.58"/>
<circle cx="1289.2" cy="395.0" r="14.58"/>
<circle cx="1178.7" cy="330.8" r="14.58"/>
<circle cx="767.5" cy="1010.8" r="14.58"/>
<circle cx="839.0" cy="1135.6" r="14.58"/>
<circle cx="1061.2" cy="640.0" r="14.58"/>
<circle cx="1112.5" cy="831.2" r="14.58"/>
<circle cx="1061.2" cy="710.0" r="14.58"/>
<circle cx="1061.2" cy="741.2" r="14.58"/>
<circle cx="1061.2" cy="822.5" r="14.58"/>
<circle cx="1061.2" cy="848.8" r="14.58"/>
<circle cx="1061.2" cy="917.5" r="14.58"/>
<circle cx="1061.2" cy="898.8" r="14.58"/>
<circle cx="1061.2" cy="992.5" r="14.58"/>
<circle cx="1061.2" cy="1044.0" r="14.58"/>
<circle cx="1068.1" cy="968.1" r="14.58"/>
<circle cx="915.0" cy="1007.8" r="14.58"/>
<circle cx="1272.5" cy="332.5" r="14.58"/>
<circle cx="1191.2" cy="662.5" r="14.58"/>
<circle cx="943.9" cy="662.5" r="14.58"/>
<circle cx="961.2" cy="662.5" r="14.58"/>
<circle cx="1061.2" cy="662.5" r="14.58"/>
<circle cx="1111.8" cy="667.5" r="14.58"/>
<circle cx="1091.2" cy="667.5" r="14.58"/>
<circle cx="1032.5" cy="667.5" r="14.58"/>
<circle cx="837.5" cy="747.5" r="14.58"/>
<circle cx="837.5" cy="773.1" r="14.58"/>
<circle cx="955.0" cy="1002.5" r="14.58"/>
<circle cx="973.8" cy="1002.5" r="14.58"/>
<circle cx="1062.5" cy="969.4" r="14.58"/>
<circle cx="1011.2" cy="1002.5" r="14.58"/>
<circle cx="1048.8" cy="1002.5" r="14.58"/>
<circle cx="992.5" cy="1002.5" r="14.58"/>
<circle cx="1153.3" cy="403.3" r="14.58"/>
<circle cx="1217.5" cy="663.8" r="14.58"/>
<circle cx="1005.0" cy="663.8" r="14.58"/>
<circle cx="1122.5" cy="833.8" r="14.58"/>
<circle cx="973.8" cy="666.2" r="14.58"/>
<circle cx="1066.2" cy="985.0" r="14.58"/>
<circle cx="1072.5" cy="836.2" r="14.58"/>
<circle cx="1085.0" cy="836.2" r="14.58"/>
<circle cx="1097.5" cy="836.2" r="14.58"/>
<circle cx="1110.0" cy="836.2" r="14.58"/>
<circle cx="1220.0" cy="335.0" r="14.58"/>
<circle cx="1178.8" cy="665.0" r="14.58"/>
<circle cx="1078.8" cy="835.0" r="14.58"/>
<circle cx="1091.2" cy="835.0" r="14.58"/>
<circle cx="986.2" cy="665.0" r="14.58"/>
<circle cx="1042.5" cy="835.0" r="14.58"/>
<circle cx="1045.0" cy="1005.0" r="14.58"/>
<circle cx="834.4" cy="950.6" r="14.58"/>
<circle cx="1005.0" cy="1003.8" r="14.58"/>
<circle cx="833.1" cy="881.2" r="14.58"/>
<circle cx="1157.5" cy="286.7" r="14.58"/>
<circle cx="980.0" cy="1002.5" r="14.58"/>
<circle cx="1069.5" cy="608.1" r="14.58"/>
<circle cx="1243.3" cy="340.0" r="14.58"/>
<circle cx="1060.0" cy="627.5" r="14.58"/>
<circle cx="1061.2" cy="840.0" r="14.58"/>
<circle cx="1200.0" cy="512.5" r="14.58"/>
<circle cx="702.5" cy="1027.8" r="14.58"/>
<circle cx="782.5" cy="1031.7" r="14.58"/>
<circle cx="818.0" cy="720.0" r="14.58"/>
</g>
<g stroke="#b0b0b0" stroke-width="3.333" fill="none">
<line x1="476.5" y1="112.0" x2="476.5" y2="1265.17"/>
<line x1="772.5" y1="112.0" x2="772.5" y2="1265.17"/>
<line x1="1067.5" y1="112.0" x2="1067.5" y2="1265.17"/>
<line x1="1363.5" y1="112.0" x2="1363.5" y2="1265.17"/>
<line x1="1659.5" y1="112.0" x2="1659.5" y2="1265.17"/>
<line x1="259.58" y1="266.5" x2="1875.0" y2="266.5"/>
<line x1="259.58" y1="478.5" x2="1875.0" y2="478.5"/>
<line x1="259.58" y1="689.5" x2="1875.0" y2="689.5"/>
<line x1="259.58" y1="900.5" x2="1875.0" y2="900.5"/>
<line x1="259.58" y1="1111.5" x2="1875.0" y2="1111.5"/>
</g>
<g clip-path="url(#ax)"><line x1="1447.7" y1="118.4" x2="682.4" y2="1290.7" stroke="#ff0000" stroke-width="6.25" stroke-dasharray="23.125 10" stroke-dashoffset="0"/></g>
<g stroke="#000" stroke-width="3.333" fill="none">
<line x1="476.5" y1="1265.5" x2="476.5" y2="1280.5"/>
<line x1="772.5" y1="1265.5" x2="772.5" y2="1280.5"/>
<line x1="1067.5" y1="1265.5" x2="1067.5" y2="1280.5"/>
<line x1="1363.5" y1="1265.5" x2="1363.5" y2="1280.5"/>
<line x1="1659.5" y1="1265.5" x2="1659.5" y2="1280.5"/>
<line x1="245.5" y1="266.5" x2="260.5" y2="266.5"/>
<line x1="245.5" y1="478.5" x2="260.5" y2="478.5"/>
<line x1="245.5" y1="689.5" x2="260.5" y2="689.5"/>
<line x1="245.5" y1="900.5" x2="260.5" y2="900.5"/>
<line x1="245.5" y1="1111.5" x2="260.5" y2="1111.5"/>
</g>
<rect x="260.5" y="112.5" width="1615" height="1153" fill="none" stroke="#000" stroke-width="3.333" stroke-linejoin="miter"/>
<g opacity="0.999">
<text x="1067.45" y="87" font-size="50" text-anchor="middle">Market Return Against Return of CCL</text>
<text x="1067.3" y="1385" font-size="41.67" text-anchor="middle">Daily Log Return Market</text>
<text transform="translate(75.4,689.6) rotate(-90)" font-size="41.67" text-anchor="middle">Daily Log Return CCL</text>
<text x="475.73" y="1327" font-size="41.67" text-anchor="middle">−0.04</text>
<text x="229.93" y="1127.40" font-size="41.67" text-anchor="end">−0.04</text>
<text x="771.48" y="1327" font-size="41.67" text-anchor="middle">−0.02</text>
<text x="229.93" y="916.15" font-size="41.67" text-anchor="end">−0.02</text>
<text x="1067.23" y="1327" font-size="41.67" text-anchor="middle">0.00</text>
<text x="229.93" y="704.90" font-size="41.67" text-anchor="end">0.00</text>
<text x="1362.98" y="1327" font-size="41.67" text-anchor="middle">0.02</text>
<text x="229.93" y="493.65" font-size="41.67" text-anchor="end">0.02</text>
<text x="1658.73" y="1327" font-size="41.67" text-anchor="middle">0.04</text>
<text x="229.93" y="282.40" font-size="41.67" text-anchor="end">0.04</text>
<rect x="280" y="133" width="570" height="75" rx="8.33" ry="8.33" fill="#fff" fill-opacity="0.8" stroke="#cccccc" stroke-opacity="0.8" stroke-width="4.167"/>
<line x1="297.08" y1="167.5" x2="380.41" y2="167.5" stroke="#ff0000" stroke-width="6.25" stroke-dasharray="23.125 10"/>
<text x="413.75" y="181" font-size="41.67">y = -0.00 + x * 2.14</text>
</g>
</svg></body></html>
